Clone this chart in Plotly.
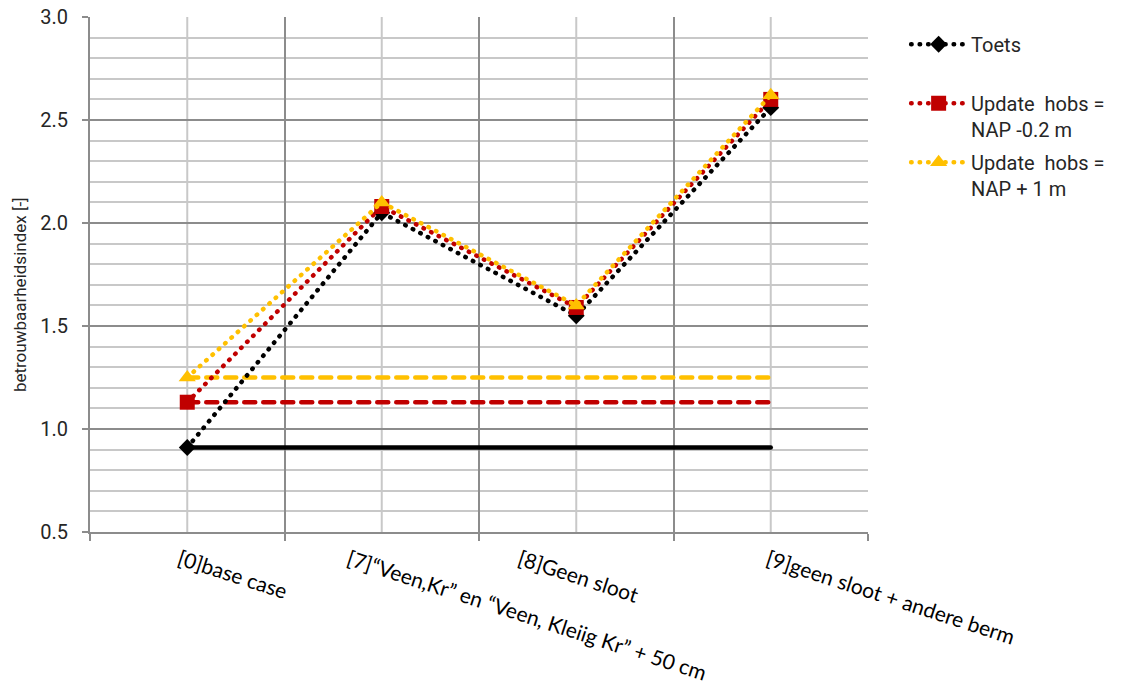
import plotly.graph_objects as go

# Scenario categories along the x axis
categories = [
    "[0]base case",
    "[7]“Veen,Kr” en “Veen, Kleiig Kr” + 50 cm",
    "[8]Geen sloot",
    "[9]geen sloot + andere berm",
]

# Reliability index per scenario
toets = [0.91, 2.05, 1.55, 2.56]
hobs_min02 = [1.13, 2.08, 1.59, 2.60]
hobs_plus1 = [1.25, 2.10, 1.60, 2.62]

series_names = ["Toets", "Update\u00a0 hobs =<br>NAP -0.2 m", "Update\u00a0 hobs =<br>NAP + 1 m"]
series_colors = ["#000000", "#C00000", "#FFC000"]
series_symbols = ["diamond", "square", "triangle-up"]
series_sizes = [13, 15, 15]
baseline_dash = ["solid", "11px,8px", "11px,8px"]

y_title = "betrouwbaarheidsindex [-]"

# per-label horizontal nudge of the rotated category labels (px)
label_shift = [-15, -40, -64, -10]

GRID_MAJOR = "#8C8C8C"
GRID_MINOR = "#C8C8C8"

fig = go.Figure()

all_series = [toets, hobs_min02, hobs_plus1]

# Horizontal reference line at each series' base-case value
for vals, col, dash in zip(all_series, series_colors, baseline_dash):
    fig.add_trace(go.Scatter(
        x=[categories[0], categories[-1]],
        y=[vals[0], vals[0]],
        mode="lines",
        line=dict(color=col, width=4.5, dash=dash),
        showlegend=False,
        hoverinfo="skip",
    ))

# Dotted scenario series with markers
legend_labels = ["Toets<br>\u00a0", series_names[1], series_names[2]]
for i, (vals, col, sym, size) in enumerate(zip(all_series, series_colors, series_symbols, series_sizes)):
    fig.add_trace(go.Scatter(
        x=categories,
        y=vals,
        mode="lines+markers",
        name=legend_labels[i],
        legendgroup=f"g{i}",
        line=dict(color=col, width=4.5, dash="0.5px,8px"),
        marker=dict(symbol=sym, size=size, color=col, line=dict(width=0)),
    ))

# Light grid lines through the category centres
for c in categories:
    fig.add_shape(type="line", xref="x", yref="y domain", x0=c, x1=c, y0=0, y1=1,
                  line=dict(color=GRID_MINOR, width=2), layer="below")

# Rotated category labels under the axis
for c, dx in zip(categories, label_shift):
    fig.add_annotation(
        x=c, y=0, xref="x", yref="paper",
        text=c, showarrow=False, textangle=18,
        xanchor="left", yanchor="top", xshift=dx, yshift=-10,
        font=dict(family="Lato", size=21, color="#000000"),
    )

# Vertical axis title
fig.add_annotation(
    x=0, y=0.46, xref="paper", yref="paper",
    text=y_title, showarrow=False, textangle=-90,
    xanchor="center", yanchor="middle", xshift=-70,
    font=dict(family="Roboto", size=17, color="#262626"),
)

fig.update_layout(
    width=1122, height=692,
    margin=dict(l=90, r=254, t=17, b=160, autoexpand=False),
    paper_bgcolor="white", plot_bgcolor="white",
    showlegend=True,
    legend=dict(
        x=1.049, y=0.985, xanchor="left", yanchor="top",
        traceorder="grouped", tracegroupgap=4, valign="top",
        itemwidth=55,
        font=dict(family="Roboto", size=20, color="#262626"),
        bgcolor="rgba(0,0,0,0)",
    ),
    xaxis=dict(
        type="category",
        categoryorder="array", categoryarray=categories,
        range=[-0.5, 3.5],
        tickson="boundaries",
        showgrid=True, gridcolor=GRID_MAJOR, gridwidth=2,
        ticks="outside", ticklen=7, tickcolor=GRID_MAJOR, tickwidth=2,
        showline=True, linecolor=GRID_MAJOR, linewidth=2,
        showticklabels=False,
        zeroline=False, automargin=False,
    ),
    yaxis=dict(
        range=[0.5, 3.0],
        tick0=0.5, dtick=0.5, tickformat=".1f",
        showgrid=True, gridcolor=GRID_MAJOR, gridwidth=2,
        minor=dict(dtick=0.1, showgrid=True, gridcolor=GRID_MINOR, gridwidth=2, ticks=""),
        ticks="outside", ticklen=6, tickcolor=GRID_MAJOR, tickwidth=2,
        showline=True, linecolor=GRID_MAJOR, linewidth=2,
        ticklabelstandoff=10,
        tickfont=dict(family="Roboto", size=20, color="#262626"),
        zeroline=False, automargin=False,
    ),
)

# Round line caps so the dotted series render as round dots
round_caps = """
document.querySelectorAll('path.js-line').forEach(function(p){
  p.style.strokeLinecap = 'round';
});
"""

fig.write_html("out.html", post_script=round_caps)
